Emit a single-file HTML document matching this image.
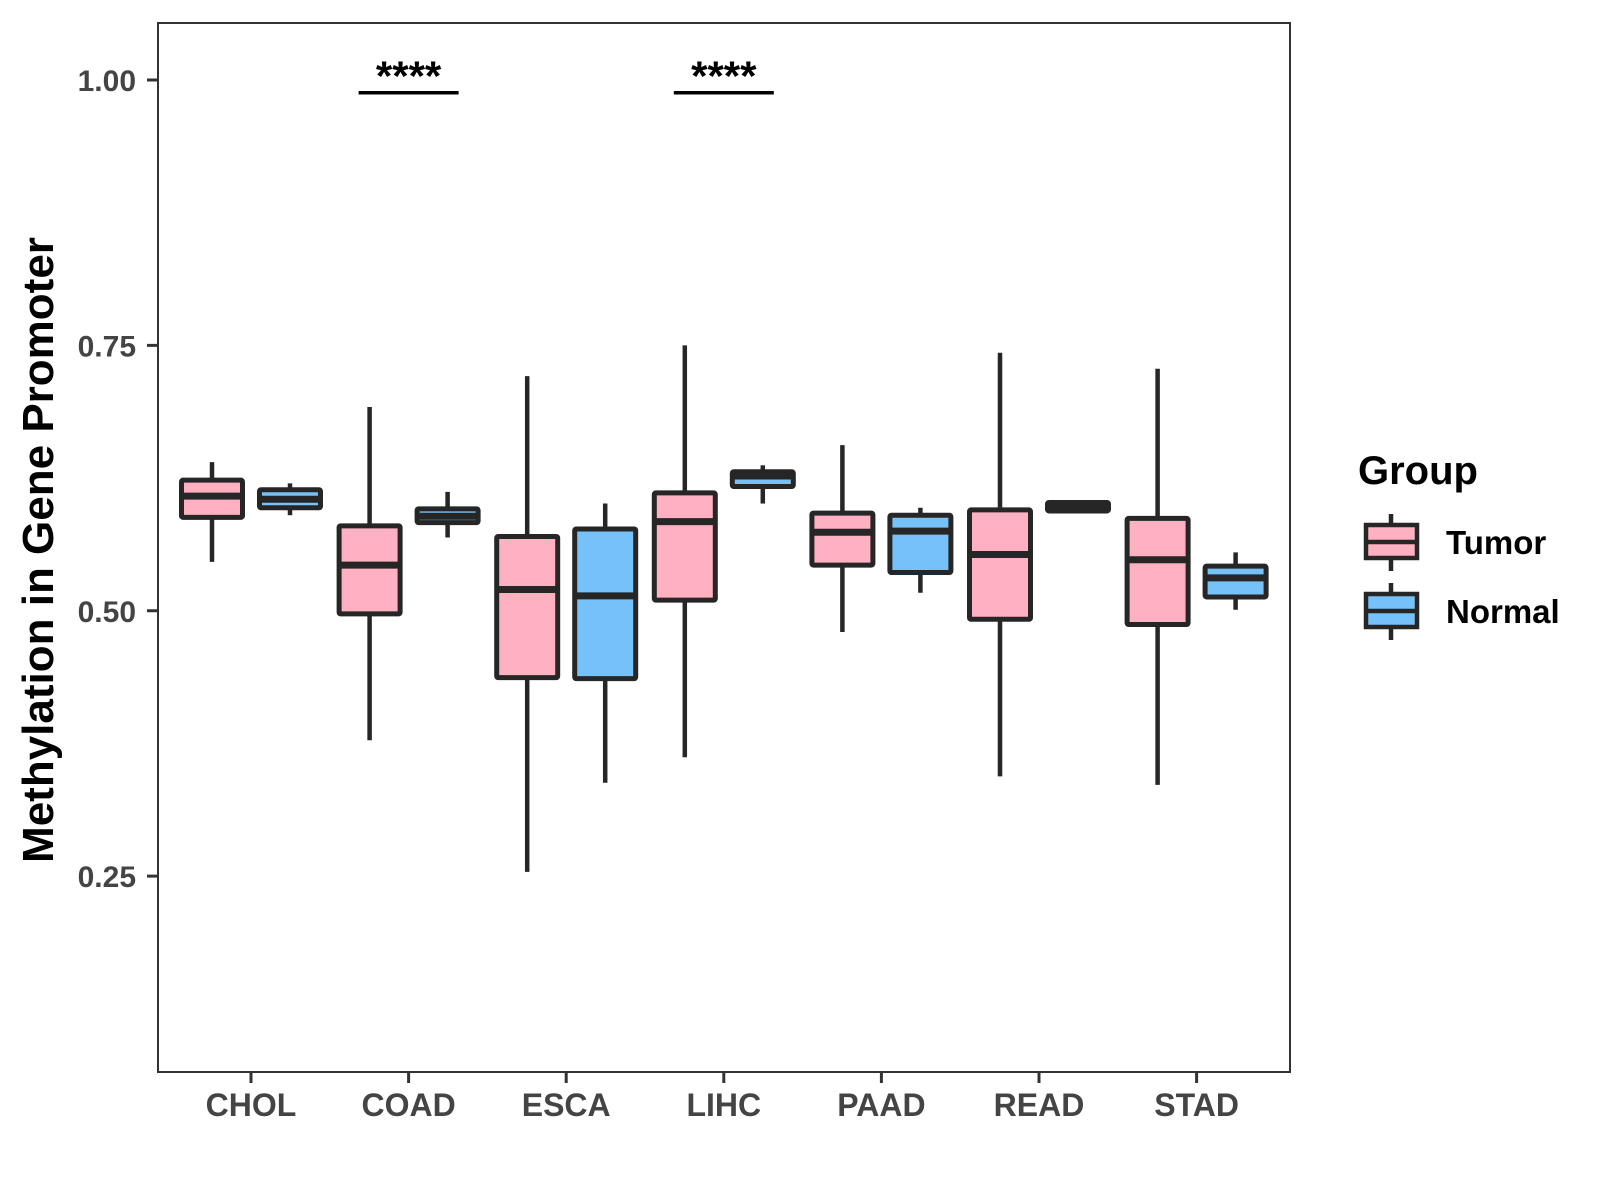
<!DOCTYPE html>
<html><head><meta charset="utf-8"><style>
html,body{margin:0;padding:0;background:#fff;}
svg{display:block;font-family:"Liberation Sans",Arial,sans-serif;font-weight:bold;}
</style></head><body>
<svg id="chart" width="1600" height="1200" viewBox="0 0 1600 1200">
<rect x="0" y="0" width="1600" height="1200" fill="#fff"/>
<g id="marks"></g>
<rect x="158" y="23" width="1132" height="1049" fill="none" stroke="#333" stroke-width="2"/>
<g id="axes"></g>
<text transform="translate(53,550) rotate(-90)" text-anchor="middle" font-size="44" fill="#000">Methylation in Gene Promoter</text>
<g>
<text x="1358" y="484" font-size="40" fill="#000">Group</text>
<g>
<line x1="1391" y1="514" x2="1391" y2="571" stroke="#262626" stroke-width="4.5"/>
<rect x="1366" y="525" width="51" height="33" fill="#FFB0C1" stroke="#262626" stroke-width="4.5"/>
<line x1="1366" y1="542" x2="1417" y2="542" stroke="#262626" stroke-width="4.5"/>
<text x="1446" y="554" font-size="33" fill="#000">Tumor</text>
</g>
<g>
<line x1="1391" y1="583" x2="1391" y2="640" stroke="#262626" stroke-width="4.5"/>
<rect x="1366" y="594" width="51" height="33" fill="#76C1F7" stroke="#262626" stroke-width="4.5"/>
<line x1="1366" y1="611" x2="1417" y2="611" stroke="#262626" stroke-width="4.5"/>
<text x="1446" y="623" font-size="33" fill="#000">Normal</text>
</g>
</g>
</svg>
<script>
const categories = ["CHOL","COAD","ESCA","LIHC","PAAD","READ","STAD"];
// [whiskerHigh, whiskerLow, q3, q1, median]
const tumorStats = [
 [0.640,0.546,0.623,0.588,0.608],
 [0.692,0.378,0.580,0.497,0.543],
 [0.721,0.254,0.570,0.437,0.520],
 [0.750,0.362,0.611,0.510,0.584],
 [0.656,0.480,0.592,0.543,0.574],
 [0.743,0.344,0.595,0.492,0.553],
 [0.728,0.336,0.587,0.487,0.548]];
const normalStats = [
 [0.620,0.590,0.614,0.597,0.605],
 [0.612,0.569,0.596,0.583,0.589],
 [0.601,0.338,0.577,0.436,0.514],
 [0.637,0.601,0.631,0.617,0.627],
 [0.597,0.517,0.590,0.536,0.575],
 [0.604,0.594,0.602,0.594,0.598],
 [0.555,0.501,0.542,0.513,0.531]];
const yTicks = [0.25,0.50,0.75,1.00];
const yTickLabels = ["0.25","0.50","0.75","1.00"];
const sigCategories = ["COAD","LIHC"];
const sigLabels = ["****","****"];
const sigLevel = 0.988;

const NS='http://www.w3.org/2000/svg';
function y(v){return 80+(1-v)*1061.5;}
function x(i){return 251+i*157.6;}
function mk(t,a,p){const e=document.createElementNS(NS,t);for(const k in a)e.setAttribute(k,a[k]);p.appendChild(e);return e;}
const marks=document.getElementById('marks'), axes=document.getElementById('axes');
const C='#262626';
function box(cx,s,fill,name){
  const g=mk('g',{},marks);
  
  
  mk('line',{x1:cx,x2:cx,y1:y(s[0]),y2:y(s[1]),stroke:C,'stroke-width':4.5},g);
  mk('rect',{x:cx-30.5,y:y(s[2]),width:61,height:y(s[3])-y(s[2]),fill:fill,stroke:C,'stroke-width':5,rx:1.5},g);
  mk('line',{x1:cx-30.5,x2:cx+30.5,y1:y(s[4]),y2:y(s[4]),stroke:C,'stroke-width':7},g);
}
categories.forEach((c,i)=>{
  box(x(i)-39,tumorStats[i],'#FFB0C1','box-tumor-'+c.toLowerCase());
  box(x(i)+39,normalStats[i],'#76C1F7','box-normal-'+c.toLowerCase());
  mk('line',{x1:x(i),x2:x(i),y1:1072,y2:1083,stroke:'#333','stroke-width':3},axes);
  const t=mk('text',{x:x(i),y:1116,'text-anchor':'middle','font-size':32,fill:'#444'},axes);
  
  
  t.textContent=c;
});
yTicks.forEach((v,i)=>{
  mk('line',{x1:147,x2:158,y1:y(v),y2:y(v),stroke:'#333','stroke-width':3},axes);
  const t=mk('text',{x:136,y:y(v)+11,'text-anchor':'end','font-size':30,fill:'#444'},axes);
  
  
  t.textContent=yTickLabels[i];
});
sigCategories.forEach((c,k)=>{
  const i=categories.indexOf(c);
  const g=mk('g',{},marks);
  
  
  mk('line',{x1:x(i)-50,x2:x(i)+50,y1:y(sigLevel),y2:y(sigLevel),stroke:'#000','stroke-width':3.5},g);
  const t=mk('text',{x:x(i),y:y(sigLevel)-2,'text-anchor':'middle','font-size':42,fill:'#000'},g);
  t.textContent=sigLabels[k];
});
</script>
</body></html>
